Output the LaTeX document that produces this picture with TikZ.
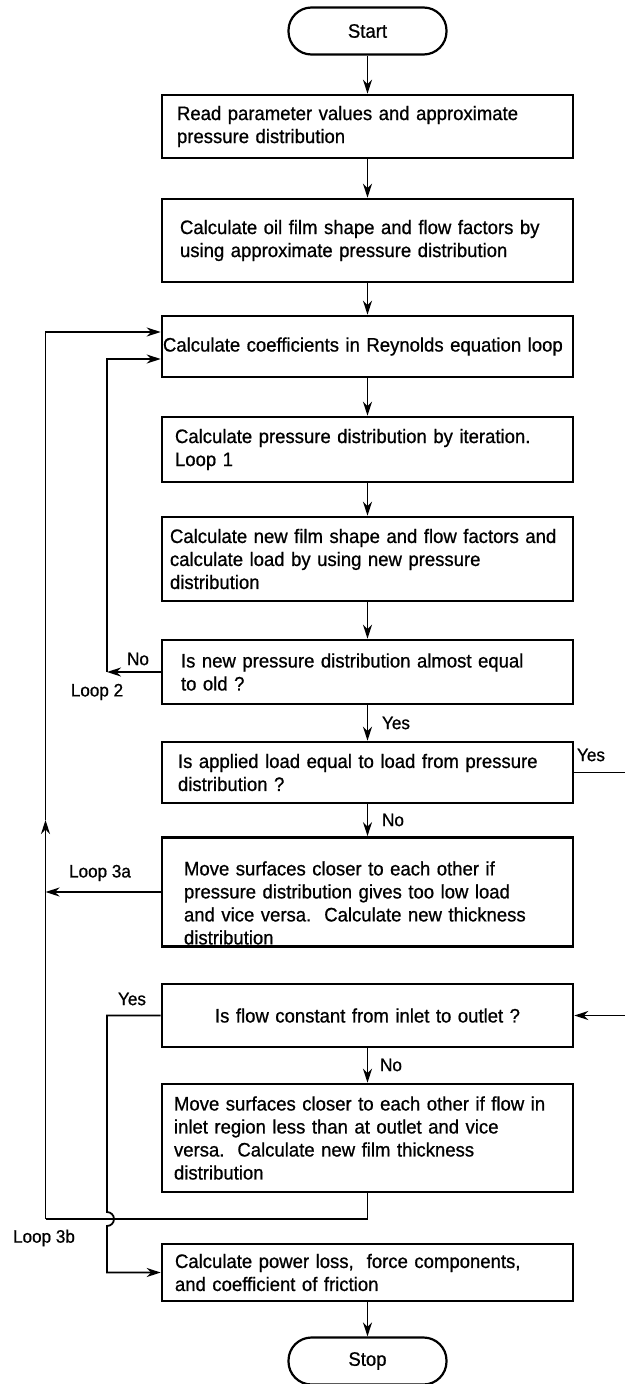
\documentclass[tikz,border=0pt]{standalone}
\usepackage{fontspec}
\setmainfont{Liberation Sans}[FakeStretch=0.95, FakeBold=0.8]
\usetikzlibrary{arrows.meta}

\begin{document}
\begin{tikzpicture}[x=1pt, y=1pt,
    every node/.style={font=\fontsize{19.5}{23}\selectfont},
    term/.style={draw, line width=2.2pt, rounded corners=23pt, minimum width=158pt, minimum height=47pt, inner sep=0pt},
    stepbox/.style={draw, line width=2.6pt, minimum width=411pt, inner xsep=0pt, inner ysep=2pt, align=left, text width=#1},
    lbl/.style={font=\fontsize{18}{20}\selectfont, inner sep=1pt},
    arr/.style={line width=1.8pt, -{Stealth[length=14pt,width=9pt]}},
    line/.style={line width=1.8pt}]

    \path[use as bounding box, fill=white] (0,0) rectangle (624,-1384);

    % Nodes
    \node[term] (start) at (367.5,-31) {Start};
    \node[stepbox=381pt, minimum height=63pt] (read) at (367.5,-126.5) {Read parameter values and approximate\\pressure distribution};
    \node[stepbox=375pt, minimum height=83pt] (oilfilm) at (367.5,-240.5) {Calculate oil film shape and flow factors by\\using approximate pressure distribution};
    \node[stepbox=409pt, minimum height=61pt] (coeff) at (367.5,-346.5) {Calculate coefficients in Reynolds equation loop};
    \node[stepbox=385pt, minimum height=65pt] (iter) at (367.5,-449.5) {Calculate pressure distribution by iteration.\\Loop 1};
    \node[stepbox=395pt, minimum height=84pt] (newfilm) at (367.5,-559) {Calculate new film shape and flow factors and\\calculate load by using new pressure\\distribution};
    \node[stepbox=373pt, minimum height=64pt] (isnew) at (367.5,-672) {Is new pressure distribution almost equal\\to old ?};
    \node[stepbox=379pt, minimum height=61pt] (isload) at (367.5,-772.5) {Is applied load equal to load from pressure\\distribution ?};
    \node[stepbox=367pt, minimum height=108pt] (move1) at (367.5,-892) {\rule{0pt}{36pt}Move surfaces closer to each other if\\pressure distribution gives too low load\\and vice versa.\ \ Calculate new thickness\\distribution};
    \node[stepbox=395pt, align=center, minimum height=63pt] (flow) at (367.5,-1015.5) {Is flow constant from inlet to outlet ?};
    \node[stepbox=387pt, minimum height=108pt] (move2) at (367.5,-1138) {Move surfaces closer to each other if flow in\\inlet region less than at outlet and vice\\versa.\ \ Calculate new film thickness\\distribution};
    \node[stepbox=385pt, minimum height=57pt] (power) at (367.5,-1272.5) {Calculate power loss,\ \ force components,\\and coefficient of friction};
    \node[term] (stop) at (367.5,-1361) {Stop};

    % Labels
    \node[lbl] (no2) at (138,-659) {No};
    \node[lbl] (loop2) at (97,-692) {Loop 2};
    \node[lbl] (yes1) at (396,-723) {Yes};
    \node[lbl] (yesr) at (591,-755) {Yes};
    \node[lbl] (no1) at (393,-820) {No};
    \node[lbl] (loop3a) at (100,-873) {Loop 3a};
    \node[lbl] (yesf) at (132,-999) {Yes};
    \node[lbl] (no3) at (391,-1065) {No};
    \node[lbl] (loop3b) at (44,-1238) {Loop 3b};

    % Coordinates
    \coordinate (c3in) at ([yshift=14.5pt]coeff.west);
    \coordinate (c2in) at ([yshift=-12.5pt]coeff.west);
    \coordinate (l2a) at (107,-672);
    \coordinate (l3a) at (45.5,-892);
    \coordinate (l3b) at (45.5,-1219);
    \coordinate (l3up) at (45.5,-820);
    \coordinate (y1) at (107,-1015.5);
    \coordinate (hop) at (107,-1212);
    \coordinate (y2) at (107,-1272.5);
    \coordinate (r1) at (630,-772.5);
    \coordinate (r2) at (630,-1015.5);

    % Edges
    \draw[arr] (start) -- (read);
    \draw[arr] (read) -- (oilfilm);
    \draw[arr] (oilfilm) -- (coeff);
    \draw[arr] (coeff) -- (iter);
    \draw[arr] (iter) -- (newfilm);
    \draw[arr] (newfilm) -- (isnew);
    \draw[arr] (isnew) -- (isload);
    \draw[arr] (isload) -- (move1);
    \draw[arr] (flow) -- (move2);
    \draw[arr] (power) -- (stop);

    % Loops
    \draw[arr] (isnew.west) -- (l2a);
    \draw[arr] (l2a) |- (c2in);
    \draw[arr] (move1.west) -- (l3a);
    \draw[line] (move2.south) |- (l3b);
    \draw[arr] (l3b) -- (l3up);
    \draw[arr] (l3up) |- (c3in);
    \draw[arr] (flow.west) -- (y1) -- (hop) arc[start angle=90, end angle=-90, radius=7pt] -- (y2) -- (power.west);
    \draw[arr] (isload.east) -- (r1) -- (r2) -- (flow.east);

\end{tikzpicture}
\end{document}
